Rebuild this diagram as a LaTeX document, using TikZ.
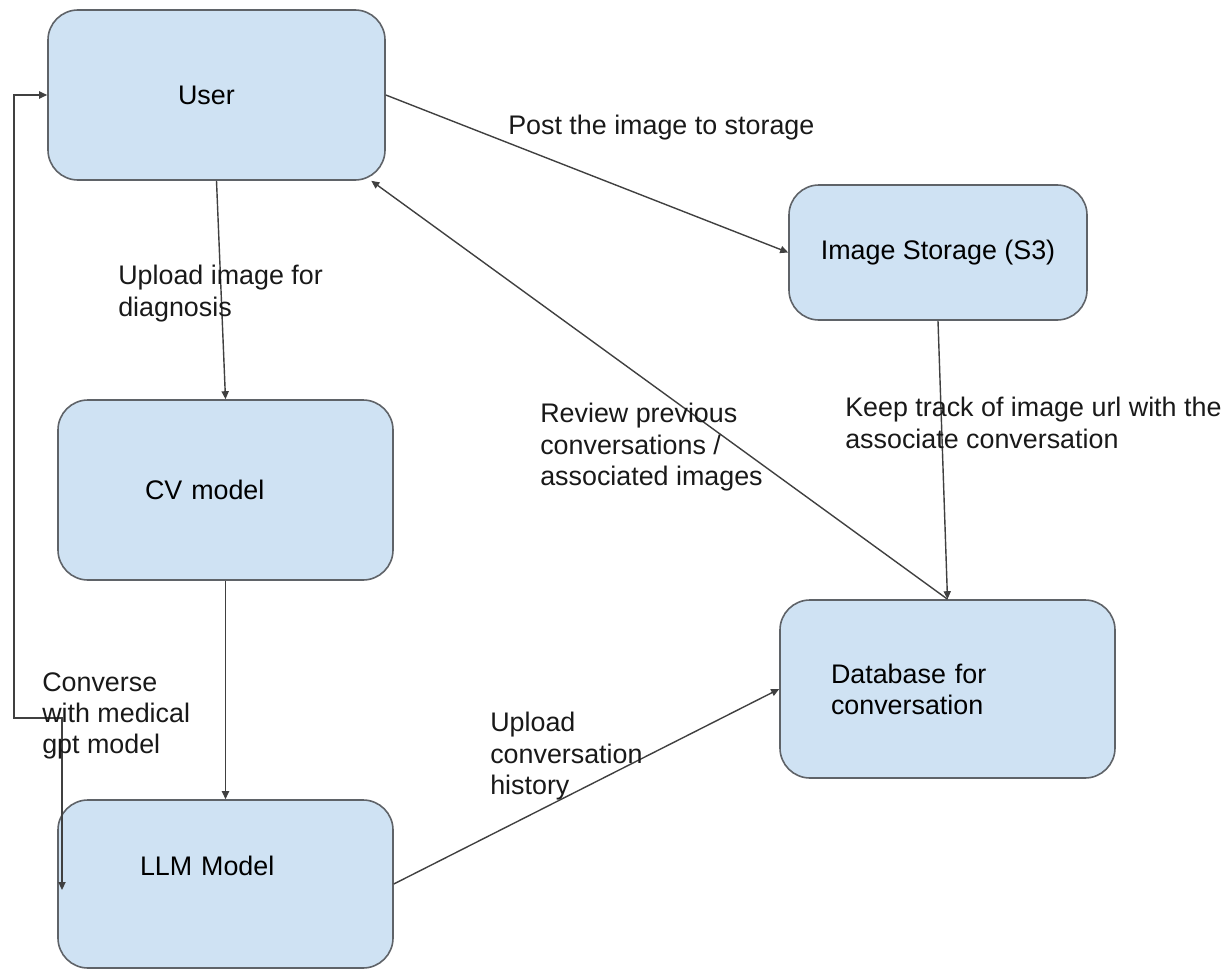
\documentclass[tikz,border=0pt]{standalone}
\usepackage{fontspec}
\setmainfont{Liberation Sans}
\usetikzlibrary{arrows.meta}

\definecolor{boxfill}{HTML}{CFE2F3}
\definecolor{boxline}{HTML}{5F6368}
\definecolor{linkline}{HTML}{404040}

\tikzset{
  box/.style={draw=boxline, line width=0.04cm, fill=boxfill, rounded corners=0.75cm,
    align=left, font=\fontsize{19.1}{22}\selectfont},
  lbl/.style={anchor=north west, inner sep=0pt, align=left, text=black!90,
    font=\fontsize{19.1}{22.3}\selectfont},
  link/.style={draw=linkline, line width=0.035cm, -{Triangle[length=0.2cm,width=0.18cm]}}
}

\begin{document}
\begin{tikzpicture}[x=0.025cm, y=-0.025cm]
  \useasboundingbox (0,0) rectangle (1232,979);

  % boxes
  \node[box, minimum width=337*0.025cm, minimum height=170*0.025cm,
        text width=77*0.025cm] (user) at (216.5,95) {User};
  \node[box, minimum width=335*0.025cm, minimum height=180*0.025cm,
        text width=161*0.025cm] (cv) at (225.5,490) {CV model};
  \node[box, minimum width=335*0.025cm, minimum height=168*0.025cm,
        text width=171*0.025cm, text depth=36*0.025cm] (llm) at (225.5,884) {LLM Model};
  \node[box, minimum width=298*0.025cm, minimum height=135*0.025cm] (storage) at (938,252.5) {Image Storage (S3)};
  \node[box, minimum width=335*0.025cm, minimum height=178*0.025cm,
        text width=233*0.025cm] (db) at (947.5,689) {Database for\\conversation};

  % connectors
  \draw[link] (user.south) -- (cv.north);
  \draw[link] (cv.south) -- (llm.north);
  \draw[link] (user.east) -- (storage.west);
  \draw[link] (storage.south) -- (db.north);
  \draw[link] (db.north) -- (user.-29);
  \draw[link] (llm.east) -- (db.west);

  \coordinate (loopbend) at (14,718);
  \coordinate (convend) at (62,890);
  \draw[link, {Triangle[length=0.2cm,width=0.18cm]}-{Triangle[length=0.2cm,width=0.18cm]}]
    (convend) -- (convend |- loopbend) -- (loopbend) |- (user.west);

  % labels
  \node[lbl] (uploadimg) at (118,265) {Upload image for\\diagnosis};
  \node[lbl] (post) at (508,115) {Post the image to storage};
  \node[lbl] (review) at (540,403) {Review previous\\conversations /\\associated images};
  \node[lbl] (keep) at (845,397) {Keep track of image url with the\\associate conversation};
  \node[lbl] (converse) at (42,672) {Converse\\with medical\\gpt model};
  \node[lbl] (uploadconv) at (490,712) {Upload\\conversation\\history};
\end{tikzpicture}
\end{document}
